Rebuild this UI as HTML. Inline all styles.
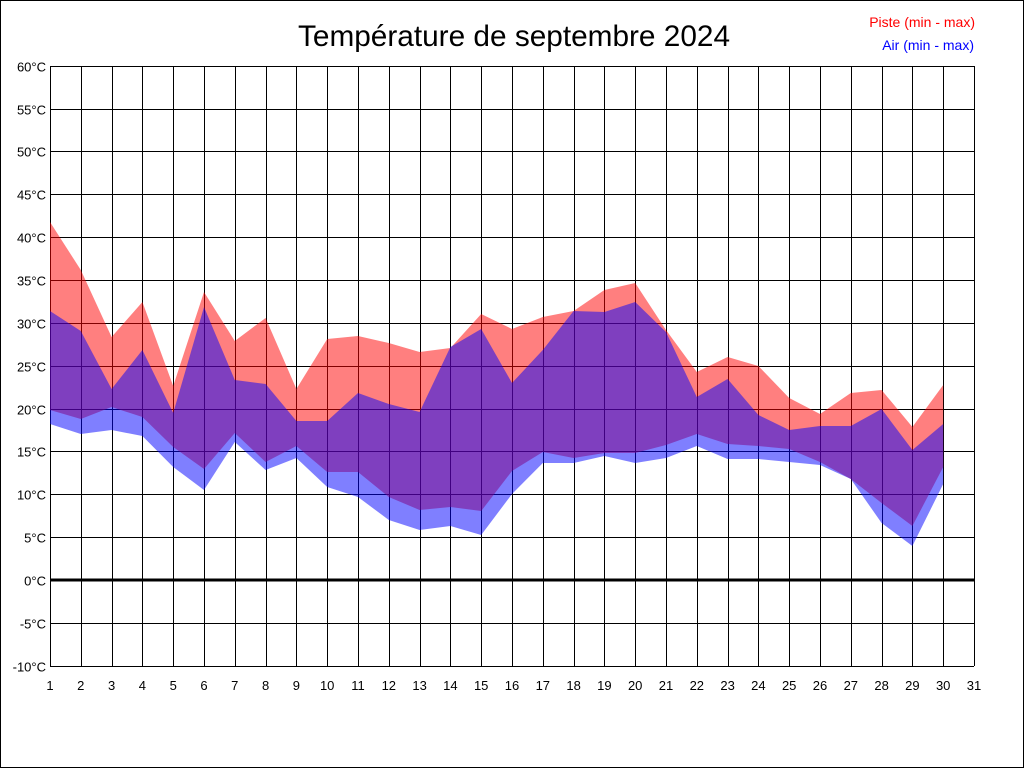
<!DOCTYPE html>
<html><head><meta charset="utf-8"><style>
html,body{margin:0;padding:0;background:#fff}
svg{display:block}
text{font-family:"Liberation Sans",Arial,sans-serif}
</style></head><body>
<svg width="1024" height="768" viewBox="0 0 1024 768">
<rect x="0.5" y="0.5" width="1023" height="767" fill="#fff" stroke="#000"/>
<g id="grid" stroke="#000" stroke-width="1"></g>
<polygon id="red" fill="#ff0000" fill-opacity="0.5"/>
<polygon id="blue" fill="#0000ff" fill-opacity="0.5"/>
<line x1="50" y1="580" x2="974" y2="580" stroke="#000" stroke-width="3"/>
<g id="lbl" font-size="13" fill="#000"></g>
<text x="514" y="46" font-size="30" text-anchor="middle" textLength="432" lengthAdjust="spacingAndGlyphs">Température de septembre 2024</text>
<text x="975" y="27" font-size="14" fill="#ff0000" text-anchor="end">Piste (min - max)</text>
<text x="974" y="50" font-size="14" fill="#0000ff" text-anchor="end">Air (min - max)</text>
</svg>
<script>
var ns="http://www.w3.org/2000/svg",g=document.getElementById('grid'),l=document.getElementById('lbl');
function X(d){return 50+(d-1)*924/30}
for(var d=1;d<=31;d++){var x=Math.round(X(d))+0.5;var e=document.createElementNS(ns,'line');e.setAttribute('x1',x);e.setAttribute('x2',x);e.setAttribute('y1',66);e.setAttribute('y2',666);g.appendChild(e);
var t=document.createElementNS(ns,'text');t.setAttribute('x',X(d));t.setAttribute('y',690);t.setAttribute('text-anchor','middle');t.textContent=d;l.appendChild(t);}
for(var v=-10;v<=60;v+=5){var y=Math.round(580-v*600/70)+0.5;var e=document.createElementNS(ns,'line');e.setAttribute('x1',50);e.setAttribute('x2',974);e.setAttribute('y1',y);e.setAttribute('y2',y);g.appendChild(e);
var t=document.createElementNS(ns,'text');t.setAttribute('x',46);t.setAttribute('y',y+5);t.setAttribute('text-anchor','end');t.textContent=v+'°C';l.appendChild(t);}
var rmax=[222,270,337,302,386,292,341,318,389,339,336,343,352,348,314,329,317,311,290,283,330,372,357,366,398,414,393,390,427,385];
var bmax=[311,331,389,350,413,307,380,384,421,421,393,404,412,347,329,383,350,311,312,302,332,397,379,415,430,426,426,409,450,424];
var pb=[410,419,407,417,447,469,433,462,446,472,472,497,510,507,511,471,452,458,453,453,445,434,444,446,449,462,479,503,526,467];
var bb=[424,434,430,436,467,490,442,470,458,487,497,520,530,526,535,494,463,463,456,463,458,446,459,459,462,465,479,523,546,484];
function poly(top,bot){var p=[];for(var i=0;i<30;i++)p.push(X(i+1)+','+top[i]);for(var i=29;i>=0;i--)p.push(X(i+1)+','+bot[i]);return p.join(' ')}
document.getElementById('red').setAttribute('points',poly(rmax,pb));
document.getElementById('blue').setAttribute('points',poly(bmax,bb));
</script>
</body></html>
